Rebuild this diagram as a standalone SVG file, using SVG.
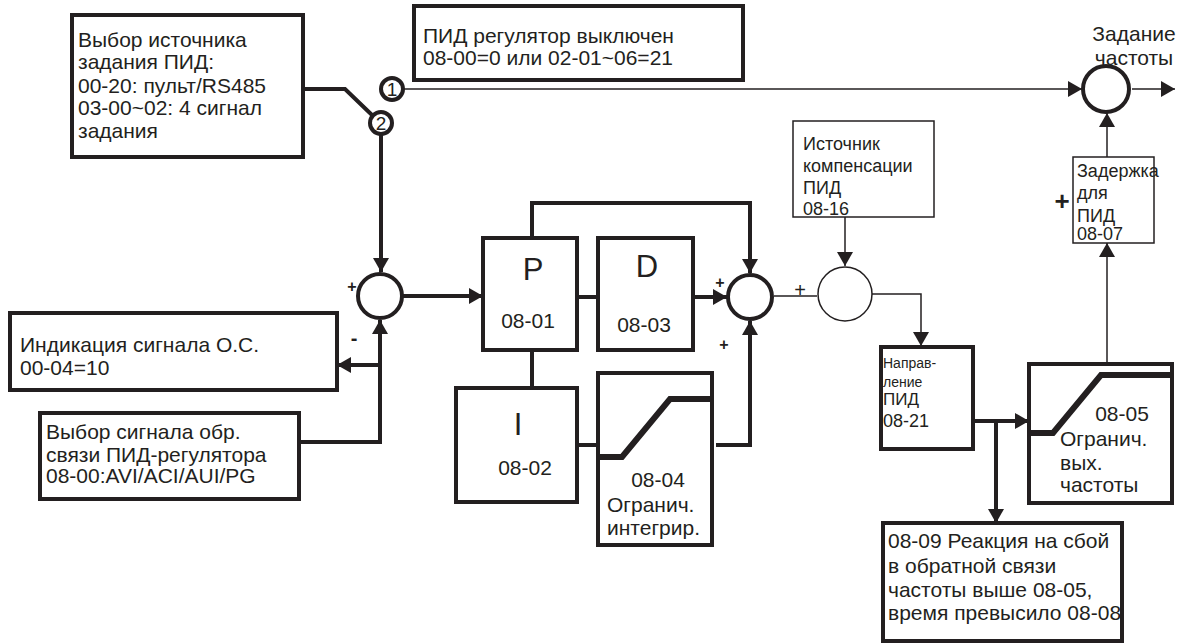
<svg xmlns="http://www.w3.org/2000/svg" width="1186" height="643" viewBox="0 0 1186 643">
<defs>
<style>
text{font-family:"Liberation Sans",Arial,sans-serif;fill:#231f20;font-size:21px}
.box{fill:#fff;stroke:#231f20;stroke-width:4}
.tbox{fill:#fff;stroke:#231f20;stroke-width:1.5}
.thick{fill:none;stroke:#231f20;stroke-width:4}
.thin{fill:none;stroke:#231f20;stroke-width:1.5}
.circ{fill:#fff;stroke:#231f20;stroke-width:4}
.tcirc{fill:#fff;stroke:#231f20;stroke-width:1.5}
.lim{fill:none;stroke:#231f20;stroke-width:6}
.big{font-size:31px}
.mid{text-anchor:middle}
</style>
<marker id="ah" viewBox="0 0 14 16" refX="14" refY="8" markerWidth="14" markerHeight="16" markerUnits="userSpaceOnUse" orient="auto">
<path d="M0,0 L14,8 L0,16 z" fill="#231f20"/>
</marker>
</defs>
<rect width="1186" height="643" fill="#fff"/>

<g id="connectors">
<polyline class="thick" points="303,89 345,89 372,115"/>
<line class="thin" x1="404" y1="89" x2="1082" y2="89" marker-end="url(#ah)"/>
<line class="thin" x1="1132" y1="89" x2="1175" y2="89" marker-end="url(#ah)"/>
<line class="thick" x1="381" y1="134" x2="381" y2="272" marker-end="url(#ah)"/>
<line class="thick" x1="403" y1="296" x2="483" y2="296" marker-end="url(#ah)"/>
<polyline class="thick" points="299,442 380,442 380,320" marker-end="url(#ah)"/>
<line class="thick" x1="380" y1="365" x2="337" y2="365" marker-end="url(#ah)"/>
<polyline class="thick" points="532,238 532,203 750,203 750,273" marker-end="url(#ah)"/>
<line class="thick" x1="577" y1="297" x2="598" y2="297"/>
<line class="thick" x1="693" y1="297" x2="727" y2="297" marker-end="url(#ah)"/>
<line class="thick" x1="532" y1="350" x2="532" y2="388"/>
<line class="thick" x1="577" y1="445" x2="598" y2="445"/>
<polyline class="thick" points="716,445 750,445 750,321" marker-end="url(#ah)"/>
<line class="thin" x1="774" y1="296" x2="817" y2="296"/>
<line class="thin" x1="845" y1="217" x2="845" y2="266" marker-end="url(#ah)"/>
<polyline class="thin" points="872,294 921,294 921,346" marker-end="url(#ah)"/>
<line class="thick" x1="973" y1="421" x2="1029" y2="421" marker-end="url(#ah)"/>
<line class="thick" x1="996" y1="421" x2="996" y2="523" marker-end="url(#ah)"/>
<line class="thin" x1="1107" y1="364" x2="1107" y2="243" marker-end="url(#ah)"/>
<line class="thin" x1="1107" y1="157" x2="1107" y2="113" marker-end="url(#ah)"/>
</g>

<g id="src-select">
<rect class="box" x="72" y="15" width="231" height="142"/>
<text x="78" y="47">Выбор источника</text>
<text x="78" y="69">задания ПИД:</text>
<text x="78" y="93">00-20: пульт/RS485</text>
<text x="78" y="115">03-00~02: 4 сигнал</text>
<text x="78" y="138">задания</text>
</g>

<g id="switch1">
<circle class="circ" cx="392" cy="89" r="11" stroke-width="3"/>
<text x="392" y="96" class="mid" style="font-size:19px">1</text>
</g>
<g id="switch2">
<circle class="circ" cx="381" cy="123" r="11" stroke-width="3"/>
<text x="381" y="130" class="mid" style="font-size:19px">2</text>
</g>

<g id="pid-off">
<rect class="box" x="414" y="6" width="329" height="74"/>
<text x="423" y="43">ПИД регулятор выключен</text>
<text x="423" y="65">08-00=0 или 02-01~06=21</text>
</g>

<g id="freq-sum">
<circle class="circ" cx="1106" cy="89" r="23"/>
<text x="1134" y="41" class="mid">Задание</text>
<text x="1134" y="65" class="mid">частоты</text>
</g>

<g id="sum1">
<circle class="circ" cx="380" cy="296" r="22"/>
<text x="352" y="292" style="font-size:16px;font-weight:bold" class="mid">+</text>
<text x="354" y="345" style="font-size:20px;font-weight:bold" class="mid">-</text>
</g>

<g id="fb-display">
<rect class="box" x="10" y="313" width="327" height="77"/>
<text x="20" y="352">Индикация сигнала О.С.</text>
<text x="20" y="375"> 00-04=10</text>
</g>

<g id="fb-select">
<rect class="box" x="40" y="413" width="259" height="86"/>
<text x="46" y="439">Выбор сигнала обр.</text>
<text x="46" y="462">связи ПИД-регулятора</text>
<text x="46" y="483">08-00:AVI/ACI/AUI/PG</text>
</g>

<g id="p-block">
<rect class="box" x="483" y="238" width="94" height="112"/>
<text x="533" y="280" class="mid big">P</text>
<text x="528" y="328" class="mid">08-01</text>
</g>

<g id="d-block">
<rect class="box" x="598" y="238" width="95" height="112"/>
<text x="647" y="277" class="mid big">D</text>
<text x="644" y="332" class="mid">08-03</text>
</g>

<g id="i-block">
<rect class="box" x="456" y="388" width="121" height="114"/>
<text x="518" y="435" class="mid big">I</text>
<text x="525" y="475" class="mid">08-02</text>
</g>

<g id="int-limit">
<rect class="box" x="598" y="373" width="114" height="172"/>
<polyline class="lim" points="598,457 622,457 670,399 712,399"/>
<text x="658" y="487" class="mid">08-04</text>
<text x="607" y="512">Огранич.</text>
<text x="607" y="535">интегрир.</text>
</g>

<g id="sum2">
<circle class="circ" cx="750" cy="297" r="22"/>
<text x="720" y="288" style="font-size:16px;font-weight:bold" class="mid">+</text>
<text x="724" y="350" style="font-size:16px;font-weight:bold" class="mid">+</text>
<text x="800" y="297" style="font-size:20px" class="mid">+</text>
</g>

<g id="comp-source">
<rect class="tbox" x="793" y="121" width="141" height="96"/>
<text x="803" y="150" style="font-size:18px">Источник</text>
<text x="803" y="172" style="font-size:18px">компенсации</text>
<text x="803" y="194" style="font-size:18px">ПИД</text>
<text x="803" y="215" style="font-size:18px">08-16</text>
</g>

<g id="comp-sum">
<circle class="tcirc" cx="845" cy="294" r="27"/>
</g>

<g id="direction">
<rect class="box" x="881" y="347" width="92" height="102"/>
<text x="883" y="368" style="font-size:14px">Направ-</text>
<text x="883" y="387" style="font-size:14px">ление</text>
<text x="883" y="405" style="font-size:17px">ПИД</text>
<text x="883" y="427" style="font-size:18px"> 08-21</text>
</g>

<g id="out-limit">
<rect class="box" x="1029" y="364" width="143" height="139"/>
<polyline class="lim" points="1029,433 1053,433 1101,375 1172,375"/>
<text x="1122" y="421" class="mid">08-05</text>
<text x="1060" y="446">Огранич.</text>
<text x="1060" y="470">вых.</text>
<text x="1060" y="492">частоты</text>
</g>

<g id="fault">
<rect class="box" x="883" y="523" width="239" height="118"/>
<text x="888" y="548">08-09 Реакция на сбой</text>
<text x="888" y="573">в обратной связи</text>
<text x="888" y="597">частоты выше 08-05,</text>
<text x="888" y="620">время превысило 08-08</text>
</g>

<g id="delay">
<rect class="tbox" x="1073" y="157" width="81" height="86"/>
<text x="1077" y="177" style="font-size:18px">Задержка</text>
<text x="1077" y="199" style="font-size:18px">для</text>
<text x="1077" y="222" style="font-size:18px">ПИД</text>
<text x="1077" y="240" style="font-size:18px">08-07</text>
<text x="1062" y="210" style="font-size:26px;font-weight:bold" class="mid">+</text>
</g>
</svg>
